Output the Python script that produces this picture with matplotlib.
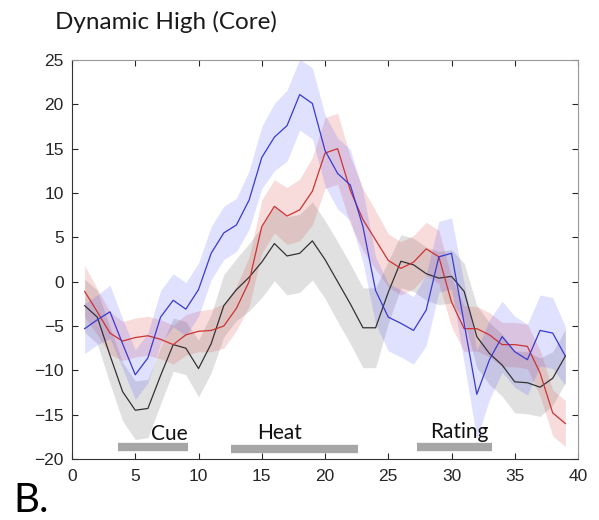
import numpy as np
import matplotlib
matplotlib.use("Agg")
import matplotlib.pyplot as plt

time = np.arange(1, 40)

black_mean = [-2.7, -4.0, -8.3, -12.4, -14.5, -14.3, -10.6, -7.1, -7.5, -9.8,
              -7.0, -2.7, -0.9, 0.5, 2.2, 4.3, 2.9, 3.2, 4.6, 2.5,
              0.0, -2.5, -5.2, -5.2, -1.2, 2.3, 1.9, 0.9, 0.4, 0.6,
              -1.1, -6.2, -8.1, -9.4, -11.3, -11.4, -11.9, -10.9, -8.4]
black_err = [3.0, 3.0, 3.2, 3.3, 3.3, 3.3, 3.2, 3.0, 3.0, 3.2,
             3.3, 3.5, 3.5, 3.8, 4.0, 4.2, 4.4, 4.4, 4.4, 4.4,
             4.5, 4.5, 4.5, 4.5, 3.5, 3.0, 3.0, 3.0, 3.0, 3.0,
             3.2, 3.5, 3.5, 3.5, 3.5, 3.5, 3.3, 3.0, 3.0]

red_mean = [-1.1, -3.4, -5.8, -6.7, -6.3, -6.1, -6.5, -7.1, -6.0, -5.6,
            -5.5, -5.0, -3.0, 0.0, 6.2, 8.5, 7.4, 8.1, 10.2, 14.5,
            15.0, 10.3, 7.0, 4.7, 2.4, 1.5, 2.2, 3.7, 2.8, -2.3,
            -5.3, -5.3, -6.0, -7.1, -7.1, -7.3, -10.3, -14.8, -16.0]
red_err = [2.9, 2.6, 2.4, 2.2, 2.2, 2.2, 2.2, 2.2, 2.3, 2.3,
           2.4, 2.5, 2.5, 2.8, 3.0, 3.0, 3.2, 3.5, 3.8, 4.0,
           4.0, 3.8, 3.5, 3.3, 3.0, 3.0, 3.0, 3.0, 3.0, 2.8,
           2.6, 2.5, 2.5, 2.5, 2.5, 2.5, 2.6, 2.6, 2.6]

blue_mean = [-5.3, -4.3, -3.4, -7.0, -10.5, -8.6, -4.0, -2.1, -3.1, -0.9,
             3.2, 5.5, 6.4, 9.2, 14.0, 16.3, 17.6, 21.1, 20.1, 14.8,
             12.2, 10.9, 6.2, -1.0, -4.0, -4.7, -5.5, -3.2, 2.8, 3.2,
             -4.7, -12.7, -8.8, -6.2, -7.9, -8.8, -5.5, -5.8, -8.4]
blue_err = [2.8, 2.8, 3.0, 2.8, 2.8, 2.8, 3.0, 3.0, 3.0, 3.0,
            3.0, 3.0, 3.0, 3.3, 3.5, 3.8, 4.0, 4.0, 4.0, 4.0,
            4.0, 4.0, 4.0, 3.8, 3.8, 3.8, 3.8, 4.0, 4.0, 4.0,
            4.5, 5.0, 4.5, 4.0, 4.0, 4.0, 4.0, 4.0, 3.3]

phase_labels = ["Cue", "Heat", "Rating"]
phase_start = [3.65, 12.6, 27.3]
phase_end = [9.15, 22.6, 33.2]
phase_bar_y = [-18.6, -18.9, -18.7]
phase_label_x = [7.7, 16.4, 30.6]
phase_label_y = [-18.3, -18.2, -18.1]

fig = plt.figure(figsize=(5.99, 5.20), dpi=100)
ax = fig.add_axes([72 / 599, 1 - 459 / 520, (578 - 72) / 599, (459 - 60) / 520])

series = [
    (black_mean, black_err, "#333333", (0.5, 0.5, 0.5), 0.24),
    (red_mean, red_err, "#cc3333", (0.85, 0.25, 0.25), 0.18),
    (blue_mean, blue_err, "#3a3ad0", (0.2, 0.2, 1.0), 0.15),
]
for m, e, lc, fc, a in series:
    m = np.array(m)
    e = np.array(e)
    ax.fill_between(time, m - e, m + e, color=fc, alpha=a, linewidth=0)
for m, e, lc, fc, a in series:
    ax.plot(time, m, color=lc, linewidth=0.9)

for lab, s, en, by, lx, ly in zip(phase_labels, phase_start, phase_end,
                                  phase_bar_y, phase_label_x, phase_label_y):
    ax.plot([s, en], [by, by], color="#a6a6a6", linewidth=6, solid_capstyle="butt")
    ax.text(lx, ly, lab, ha="center", va="bottom", fontsize=15,
            family="Lato", color="#111111")

ax.set_xlim(0, 40)
ax.set_ylim(-20, 25)
ax.set_xticks(np.arange(0, 41, 5))
ax.set_yticks(np.arange(-20, 26, 5))
ax.tick_params(direction="in", length=4, labelsize=12.5, top=True, right=True,
               colors="#262626", width=0.8)
ax.tick_params(axis="x", pad=7)
ax.tick_params(axis="y", pad=6)
for lab in ax.get_xticklabels() + ax.get_yticklabels():
    lab.set_family("Liberation Sans")
for side in ["left", "bottom"]:
    ax.spines[side].set_color("#333333")
for side in ["top", "right"]:
    ax.spines[side].set_color("#999999")

fig.text(55 / 599, 1 - 22 / 520, "Dynamic High (Core)", ha="left", va="center",
         fontsize=17.5, family="Lato", color="#1a1a1a")
fig.text(13 / 599, 1 - 512 / 520, "B.", ha="left", va="baseline",
         fontsize=29, family="Lato", color="#000000")

fig.savefig("out.png", dpi=100)
